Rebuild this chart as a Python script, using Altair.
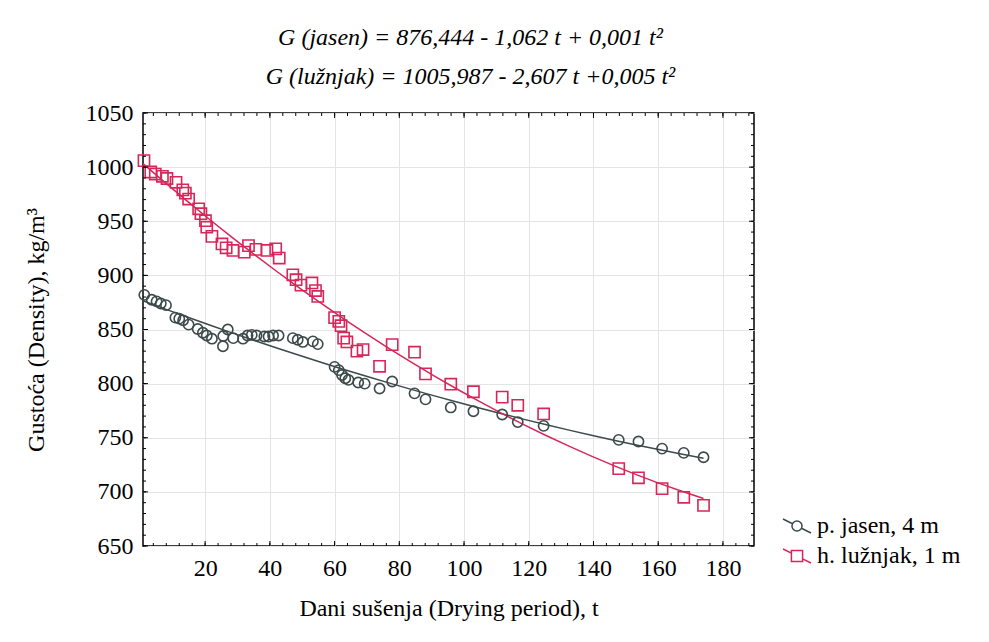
import altair as alt
import pandas as pd

series_names = ["p. jasen, 4 m", "h. lužnjak, 1 m"]

t_jasen = [1.2, 3.5, 5.0, 6.3, 7.9, 10.8, 12.0, 13.2, 14.9, 17.7, 19.3, 20.5, 22.1, 25.5, 25.6,
           27.0, 28.7, 31.7, 33.1, 34.4, 35.9, 38.3, 39.6, 41.0, 42.7, 47.1, 48.6, 50.2, 53.3, 54.8,
           60.0, 61.3, 62.3, 63.3, 64.3, 67.3, 69.3, 73.9, 77.8, 84.7, 88.1, 95.9, 102.9, 111.8,
           116.6, 124.6, 147.8, 153.9, 161.2, 167.9, 174.0]
g_jasen = [882, 877.5, 876, 874, 872.5, 861, 860, 858.5, 854.5, 850.5, 847, 844.5, 841.5, 834.5, 844,
           850, 842, 841.5, 844.5, 845, 844.5, 843.5, 843.5, 844.5, 844.5, 842, 840.5, 838.5, 839, 836.5,
           815.5, 812.5, 808, 805, 803.5, 801, 800, 795.5, 802, 791, 785.5, 778, 774.5, 771.5,
           764.5, 761, 748, 746.5, 740, 736, 732]

t_luznjak = [1.1, 3.2, 4.6, 6.8, 8.2, 11.0, 13.1, 13.9, 14.9, 18.0, 18.7, 20.1, 20.5, 22.1, 25.2,
             26.5, 28.6, 32.1, 33.4, 35.7, 39.1, 41.8, 42.9, 47.1, 48.1, 49.6, 53.0, 54.1, 54.8,
             60.0, 61.3, 62.0, 62.8, 63.8, 66.9, 68.8, 73.9, 77.8, 84.7, 88.1, 95.9, 102.9, 111.8,
             116.6, 124.6, 147.8, 153.9, 161.2, 167.9, 174.0]
g_luznjak = [1006, 995.5, 993.5, 991.5, 989.5, 986, 979, 976, 970.5, 961.5, 957, 950.5, 944.5, 936, 929,
             925.5, 923, 921.5, 927.5, 924, 923, 924.5, 916, 900.5, 896, 891, 893, 886, 880.5,
             861, 857.5, 853.5, 842, 838.5, 830, 831.5, 816, 836, 829, 809, 799.5, 792.5, 787.5,
             780, 772, 721.5, 713, 703, 695, 687.5]

x_major = [20, 40, 60, 80, 100, 120, 140, 160, 180]
x_minor = list(range(4, 189, 4))
y_major = [650, 700, 750, 800, 850, 900, 950, 1000, 1050]
y_minor = list(range(650, 1051, 10))

equations = ["G (jasen) = 876,444 - 1,062 t + 0,001 t²",
             "G (lužnjak) = 1005,987 - 2,607 t +0,005 t²"]
x_title = "Dani sušenja (Drying period), t"
y_title = "Gustoća (Density), kg/m³"

W, H = 611, 433
FONT = "Times New Roman"

# legend glyphs: a short diagonal line drawn through the marker
SYM_JASEN = ("M-1,-0.5L-0.32,-0.16M0.32,0.16L1,0.5"
             "M0.36,0A0.36,0.36 0 1,1 -0.36,0A0.36,0.36 0 1,1 0.36,0Z")
SYM_LUZNJAK = ("M-1,-0.5L-0.4,-0.2M0.4,0.2L1,0.5"
               "M-0.4,-0.4H0.4V0.4H-0.4Z")

df = pd.concat([
    pd.DataFrame({"t": t_jasen, "G": g_jasen, "series": series_names[0]}),
    pd.DataFrame({"t": t_luznjak, "G": g_luznjak, "series": series_names[1]}),
], ignore_index=True)

xs = alt.Scale(domain=[0.8, 189.6], nice=False, zero=False)
ys = alt.Scale(domain=[650, 1050], nice=False, zero=False)
color_scale = alt.Scale(domain=series_names, range=["#3c4a49", "#d8265a"])
legend_shape_scale = alt.Scale(domain=series_names, range=[SYM_JASEN, SYM_LUZNJAK])

x_axis = alt.Axis(values=x_major, title=x_title, grid=True, ticks=False, domain=False,
                  labelPadding=10, titlePadding=16)
y_axis = alt.Axis(values=y_major, title=y_title, grid=True, ticks=False, domain=False,
                  labelPadding=10, titlePadding=37, format="d")

X = alt.X("t:Q", scale=xs, axis=x_axis)
Y = alt.Y("G:Q", scale=ys, axis=y_axis)
C = alt.Color("series:N", scale=color_scale, legend=None)

# invisible layer that only carries the legend (line-through-marker glyphs); must be first
legend_layer = alt.Chart(df).mark_point(filled=False, opacity=0).encode(
    x=X, y=Y,
    color=alt.Color("series:N", scale=color_scale, legend=alt.Legend(title=None)),
    shape=alt.Shape("series:N", scale=legend_shape_scale, legend=alt.Legend(title=None)),
)

circles = alt.Chart(df).transform_filter(
    alt.datum.series == series_names[0]
).mark_point(shape="circle", size=105, filled=False, strokeWidth=1.6, opacity=1).encode(
    x=X, y=Y, color=C)

squares = alt.Chart(df).transform_filter(
    alt.datum.series == series_names[1]
).mark_point(shape="square", size=125, filled=False, strokeWidth=1.6, opacity=1).encode(
    x=X, y=Y, color=C)

lines = alt.Chart(df).transform_regression(
    "t", "G", method="poly", order=2, groupby=["series"], extent=[0.8, 174.0]
).mark_line(strokeWidth=1.5).encode(x=X, y=Y, color=C)


def xticks(vals, length):
    b = alt.Chart(pd.DataFrame({"v": vals})).mark_rule(color="black", strokeWidth=1)
    xv = alt.X("v:Q", scale=xs, axis=x_axis)
    return [b.encode(x=xv, y=alt.value(H), y2=alt.value(H - length)),
            b.encode(x=xv, y=alt.value(0), y2=alt.value(length))]


def yticks(vals, length):
    b = alt.Chart(pd.DataFrame({"v": vals})).mark_rule(color="black", strokeWidth=1)
    yv = alt.Y("v:Q", scale=ys, axis=y_axis)
    return [b.encode(y=yv, x=alt.value(0), x2=alt.value(length)),
            b.encode(y=yv, x=alt.value(W), x2=alt.value(W - length))]


tick_layers = xticks(x_minor, 3) + xticks(x_major, 5) + yticks(y_minor, 3) + yticks(y_major, 5)

chart = alt.layer(legend_layer, lines, circles, squares, *tick_layers).properties(
    width=W, height=H,
    title=alt.TitleParams(text=equations, font=FONT, fontSize=24, fontStyle="italic",
                          fontWeight="normal", color="black", anchor="middle",
                          lineHeight=39, offset=12, dx=22),
    padding={"left": 16, "top": 18, "right": 5, "bottom": 5},
).configure_view(
    stroke="black", strokeWidth=1.5
).configure_axis(
    labelFont=FONT, labelFontSize=24, labelColor="black",
    titleFont=FONT, titleFontSize=24, titleFontWeight="normal", titleColor="black",
    gridColor="#e4e4e4", gridWidth=1,
).configure_legend(
    orient="none", legendX=639, legendY=398,
    labelFont=FONT, labelFontSize=24, labelColor="black", labelOffset=5,
    symbolStrokeWidth=1.5, symbolSize=784, symbolFillColor="transparent",
    symbolOpacity=1, rowPadding=3,
)

chart.save("out.html", embed_options={"renderer": "svg", "actions": False})
